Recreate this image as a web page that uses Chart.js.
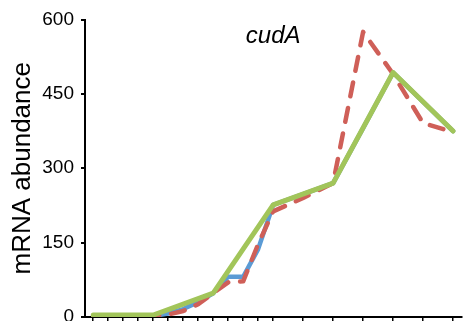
<!DOCTYPE html>
<html>
<head>
<meta charset="utf-8">
<script src="https://cdn.jsdelivr.net/npm/chart.js@4.4.1/dist/chart.umd.min.js"></script>
<style>
  html, body { margin: 0; padding: 0; background: #fff; }
  #wrap { width: 465px; height: 321px; }
</style>
</head>
<body>
<div id="wrap"><canvas id="chart" width="465" height="321"></canvas></div>
<script>
// gene name shown inside the plot
const geneName = 'cudA';
const yTitle = 'mRNA abundance';

// tick positions (hours on x, abundance on y)
const xTicks = [0, 1, 2, 3, 4, 5, 6, 7, 8, 9, 10, 11, 12, 14, 16, 18, 20, 22, 24];
const yTicks = [0, 150, 300, 450, 600];

// blue series
const blueHours  = [0, 1, 2, 3, 4, 5, 6, 7, 8, 9, 10, 11, 12, 14, 16, 18, 20, 22, 24];
const blueValues = [1, 0, 1, 1, 2, 7, 16, 30, 48, 81, 81, 137, 226, 248, 270, 381, 493, 434, 375];

// red (dashed) series
const redHours  = [0, 1, 2, 3, 4, 5, 6, 7, 8, 9, 10, 11, 12, 14, 16, 18, 20, 22, 24];
const redValues = [2, 2, 2, 2, 2, 5, 12, 26, 48, 70, 72, 147, 213, 240, 270, 575, 490, 391, 373];

// green series
const greenHours  = [0, 4, 8, 12, 16, 20, 24];
const greenValues = [4, 4, 48, 226, 270, 493, 375];

const FONT = '"Liberation Sans", Arial, sans-serif';

const toPoints = (xs, ys) => xs.map((x, i) => ({ x: x, y: ys[i] }));

// draws the italic gene name near the top of the plot area
const geneTitle = {
  id: 'geneTitle',
  afterDraw(chart) {
    const { ctx, chartArea } = chart;
    ctx.save();
    ctx.font = 'italic 24px ' + FONT;
    ctx.fillStyle = '#000';
    ctx.textAlign = 'center';
    ctx.textBaseline = 'alphabetic';
    ctx.fillText(geneName, (chartArea.left + chartArea.right) / 2, chartArea.top + 23.5);
    ctx.restore();
  }
};

const lineStyle = { pointRadius: 0, tension: 0, borderCapStyle: 'round', borderJoinStyle: 'round', fill: false };

new Chart(document.getElementById('chart').getContext('2d'), {
  type: 'line',
  data: {
    datasets: [
      Object.assign({ data: toPoints(greenHours, greenValues), borderColor: '#A2C55A', borderWidth: 5 }, lineStyle),
      Object.assign({ data: toPoints(redHours, redValues), borderColor: '#CF5F58', borderWidth: 4.5, borderDash: [14, 12] }, lineStyle),
      Object.assign({ data: toPoints(blueHours, blueValues), borderColor: '#5B9BD5', borderWidth: 4.5 }, lineStyle)
    ]
  },
  options: {
    responsive: false,
    animation: false,
    layout: { padding: { top: 19.5, right: 3.7, bottom: 0, left: 0 } },
    plugins: { legend: { display: false }, tooltip: { enabled: false } },
    scales: {
      x: {
        type: 'linear',
        min: -0.55,
        max: 24.55,
        afterBuildTicks: s => { s.ticks = xTicks.map(v => ({ value: v })); },
        afterFit: s => { s.height = 4; s.paddingLeft = 0; s.paddingRight = 0; },
        ticks: { display: false },
        grid: { drawOnChartArea: false, tickLength: 4, color: '#000', lineWidth: 1.5 },
        border: { display: true, color: '#000', width: 2 }
      },
      y: {
        min: 0,
        max: 600,
        afterBuildTicks: s => { s.ticks = yTicks.map(v => ({ value: v })); },
        afterFit: s => { s.width = 85; s.paddingTop = 0; s.paddingBottom = 0; },
        ticks: { color: '#000', padding: 7, font: { size: 19, family: FONT } },
        grid: { drawOnChartArea: false, tickLength: 4, color: '#000', lineWidth: 2 },
        border: { display: true, color: '#000', width: 2 },
        title: {
          display: true,
          text: yTitle,
          color: '#000',
          padding: { top: 7, bottom: 0 },
          font: { size: 26, family: FONT }
        }
      }
    }
  },
  plugins: [geneTitle]
});
</script>
</body>
</html>
